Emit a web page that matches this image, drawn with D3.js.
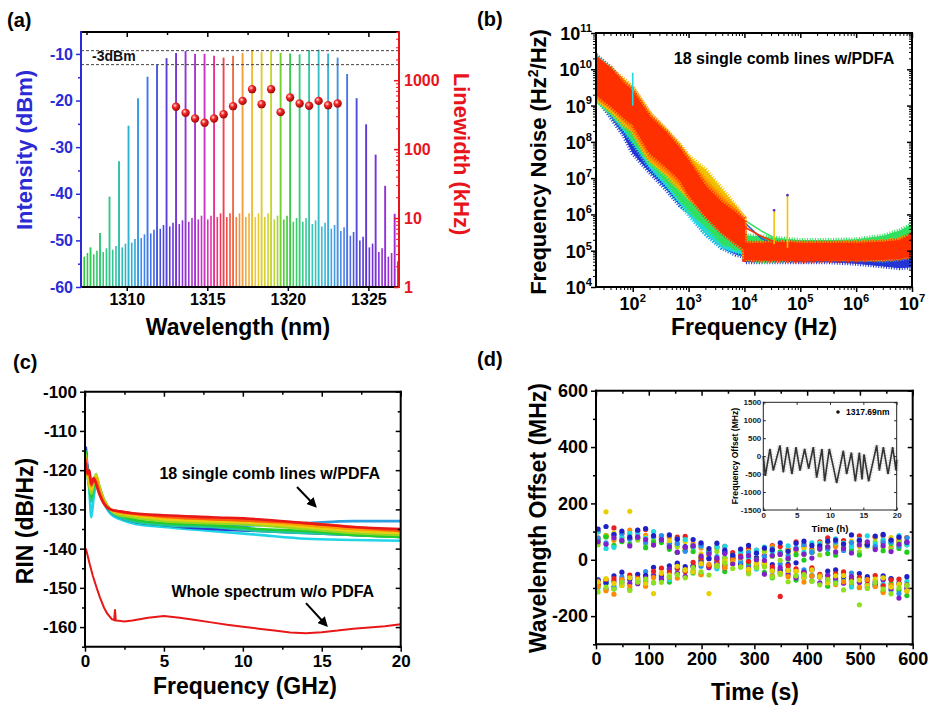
<!DOCTYPE html>
<html>
<head>
<meta charset="utf-8">
<script src="https://cdnjs.cloudflare.com/ajax/libs/d3/7.8.5/d3.min.js"></script>
<style>
  body { margin: 0; background: #fff; }
  svg text { font-family: "Liberation Sans", Arial, Helvetica, sans-serif; font-weight: bold; }
</style>
</head>
<body>
<svg id="fig" width="929" height="707"></svg>
<script>
// ---------- (a) optical spectrum + linewidth ----------
const combWl = [1307.16, 1307.75, 1308.34, 1308.93, 1309.52, 1310.11, 1310.70, 1311.29, 1311.88, 1312.47,
  1313.06, 1313.65, 1314.24, 1314.83, 1315.42, 1316.01, 1316.60, 1317.19, 1317.78, 1318.37,
  1318.96, 1319.55, 1320.14, 1320.73, 1321.32, 1321.91, 1322.50, 1323.09, 1323.68, 1324.27,
  1324.86, 1325.45, 1326.04, 1326.63];
const combPeak = [-52.5, -51.5, -48.4, -40.6, -33.0, -25.4, -19.5, -14.9, -12.4, -10.9,
  -9.8, -9.4, -10.0, -10.0, -10.4, -10.8, -10.4, -9.8, -9.2, -9.6,
  -9.4, -9.8, -9.9, -10.1, -9.2, -9.1, -9.9, -10.8, -14.3, -19.5,
  -25.1, -31.6, -38.3, -44.3];
const combSide = [-53.5, -53, -52.5, -52, -51.5, -50.5, -49.5, -48.5, -47.5, -47,
  -46.5, -46, -45.5, -45.5, -45, -45, -45, -45, -45, -45,
  -45.5, -45.5, -46, -46, -46.5, -47, -47.5, -48, -49, -50,
  -51.5, -52.5, -53.5, -54.5];
const lwWl = [1313.06, 1313.65, 1314.24, 1314.83, 1315.42, 1316.01, 1316.60, 1317.19, 1317.78,
  1318.37, 1318.96, 1319.55, 1320.14, 1320.73, 1321.32, 1321.91, 1322.50, 1323.09];
const lwVal = [411, 336, 278, 241, 278, 321, 420, 501, 741, 449, 741, 344, 561, 459, 425, 501, 434, 459];
const dashLevels = [-9.3, -12.3];
const aXTicks = [1310, 1315, 1320, 1325];
const aXMinor = [1307.5, 1312.5, 1317.5, 1322.5];
const aYTicks = [-60, -50, -40, -30, -20, -10];
const aYMinor = [-55, -45, -35, -25, -15];
const aLwTicks = [1, 10, 100, 1000];

// ---------- (b) frequency noise bands ----------
const fnFreq = [22, 40, 70, 100, 200, 400, 700, 1000, 2000, 4000, 7000, 9900, 10100, 20000, 50000, 1e5, 3e5, 1e6, 3e6, 6e6, 1e7];
const blueLo = [1.8e9, 5e8, 1.5e8, 5e7, 1.5e7, 5e6, 1.8e6, 1.2e6, 3e5, 1.2e5, 8e4, 7e4, 5e4, 5e4, 5e4, 5e4, 5e4, 4.5e4, 3.8e4, 3.4e4, 3.6e4];
const blueHi = [1e10, 5e9, 2.5e9, 9.5e8, 2.5e8, 6e7, 1.8e7, 6e6, 2e6, 5e5, 2e5, 1.3e5, 1.2e5, 1.2e5, 1.2e5, 1.2e5, 1.2e5, 1.1e5, 1e5, 8e4, 1e5];
const cyanLo = [1.6e9, 6e8, 2e8, 1e8, 2e7, 6e6, 2e6, 1e6, 3e5, 1.2e5, 9e4, 8e4, 7e4, 6.5e4, 6.5e4, 6.5e4, 6.5e4, 6e4, 5.5e4, 6e4, 7e4];
const cyanHi = [2.5e10, 1e10, 4e9, 2e9, 3.3e8, 7.6e7, 2.2e7, 1e7, 2.5e6, 6e5, 2.5e5, 1.6e5, 1.6e5, 1.5e5, 1.5e5, 1.5e5, 1.5e5, 1.5e5, 1.6e5, 1.8e5, 2.5e5];
const greenLo = [1.5e9, 6e8, 2.5e8, 1.1e8, 2.6e7, 8e6, 2.5e6, 1.35e6, 4.7e5, 1.6e5, 1.1e5, 9.5e4, 6.3e4, 5e4, 5.5e4, 6.3e4, 6.3e4, 6.3e4, 6.5e4, 7.5e4, 1.3e5];
const greenHi = [2e10, 1e10, 4e9, 2.2e9, 4e8, 1e8, 3e7, 1.4e7, 3.2e6, 9e5, 4e5, 3.1e5, 2.6e5, 2.4e5, 2.1e5, 1.9e5, 1.9e5, 2e5, 2.5e5, 3.5e5, 5.2e5];
const yellowLo = [1.4e9, 7e8, 3e8, 2e8, 3e7, 1.2e7, 5e6, 3e6, 1.2e6, 4e5, 2e5, 1.3e5, 6e4, 6e4, 6e4, 6e4, 6e4, 6e4, 6e4, 6.5e4, 8e4];
const yellowHi = [1.8e10, 9e9, 4.5e9, 3e9, 6e8, 2e8, 8e7, 4e7, 1.7e7, 4.8e6, 1.7e6, 8e5, 1.5e5, 1.5e5, 1.5e5, 1.5e5, 1.5e5, 1.6e5, 1.7e5, 2e5, 2.8e5];
const orangeLo = [1.6e9, 8e8, 3.5e8, 2e8, 3.5e7, 1.4e7, 6e6, 3e6, 1e6, 3.5e5, 1.8e5, 1.2e5, 6e4, 6e4, 6e4, 6e4, 6e4, 6e4, 6e4, 6.5e4, 7.5e4];
const orangeHi = [2e10, 1e10, 5e9, 3e9, 6e8, 2e8, 7.6e7, 3.4e7, 9e6, 3e6, 1.4e6, 8e5, 1.6e5, 1.6e5, 1.6e5, 1.6e5, 1.6e5, 1.7e5, 1.8e5, 2e5, 2.8e5];
const redLo = [2e9, 1e9, 4.5e8, 3e8, 5e7, 2e7, 9e6, 3.5e6, 9e5, 3.1e5, 1.6e5, 1.1e5, 5.8e4, 5.5e4, 5.5e4, 5.2e4, 5.5e4, 5.5e4, 5.8e4, 6e4, 7.2e4];
const redHi = [2.3e10, 1.1e10, 4e9, 2.5e9, 5e8, 1.8e8, 6.5e7, 3e7, 6e6, 2.1e6, 1.1e6, 7e5, 1.6e5, 1.6e5, 1.7e5, 1.6e5, 1.6e5, 1.6e5, 1.7e5, 1.9e5, 2.9e5];
const spikeF = [100, 34000, 59000];
const spikeBase = [1e9, 1.5e5, 1.2e5];
const spikeTop = [8e9, 1.3e6, 3.4e6];
const trF = [10000, 20000, 40000];
const trGreen = [7e5, 3.5e5, 2e5];
const trBlue = [6e5, 2.2e5, 1.3e5];
const trRed = [4.5e5, 2.5e5, 1.6e5];
const bXTicks = [1e2, 1e3, 1e4, 1e5, 1e6, 1e7];
const bYTicks = [1e4, 1e5, 1e6, 1e7, 1e8, 1e9, 1e10, 1e11];

// ---------- (c) RIN ----------
const rinFreq = [0.05, 0.15, 0.27, 0.4, 0.55, 0.7, 0.9, 1.2, 1.6, 2.2, 3, 5, 8, 11, 14, 17, 20];
const rinCyan   = [-117, -121, -125, -132, -127, -124, -125.5, -128.5, -131, -132.5, -133.5, -134.5, -135.5, -136.5, -137.5, -137.8, -138];
const rinSky    = [-116, -120, -123, -127, -124, -122.5, -125, -128, -130.5, -132, -133, -134, -134.5, -134, -133.5, -133, -133];
const rinBlue   = [-114, -119, -122, -126, -124, -123, -125, -128, -130.5, -132, -133, -134, -135, -135.5, -136, -136.5, -137];
const rinPurple = [-115, -120, -122, -125, -123, -122.5, -124.5, -128, -130.5, -131.5, -132, -132.5, -133, -133.5, -134, -135, -135.5];
const rinTeal   = [-116, -121, -124, -128, -125, -122, -124.5, -128, -130.5, -132, -133, -134, -134.5, -135.5, -136, -136.5, -137];
const rinGreen  = [-115, -120, -123, -127, -124, -121.5, -124, -127.5, -130, -131.5, -132.5, -133.5, -134, -135, -135.5, -136.5, -137];
const rinLime   = [-116, -121, -124, -126, -123, -121, -124, -127.5, -130, -131.5, -132, -133, -133.5, -134, -135, -136, -136.5];
const rinYellow = [-117, -121, -123, -125, -123, -121.5, -124.5, -128, -130, -131, -131.5, -132.5, -133, -133.5, -134.5, -135.5, -136];
const rinOrange = [-118, -121, -121.5, -124, -123, -122, -125, -128, -130, -130.8, -131.2, -132, -132.5, -133, -134, -135, -135.5];
const rinOrRed  = [-117, -120, -120.5, -124, -122.5, -123, -125.5, -128.5, -130, -130.5, -131, -131.8, -132.5, -133, -133.5, -134.5, -135.5];
const rinRed    = [-118, -121, -120, -123.5, -122, -123.5, -126, -128.5, -130, -130.5, -131, -131.5, -132, -132.5, -133.5, -134.5, -135];
const wholeFreq = [0.05, 0.15, 0.3, 0.5, 0.74, 0.95, 1.2, 1.4, 1.7, 1.85, 1.9, 1.95, 2.5, 3, 4, 5, 6, 7, 8, 9, 10, 11, 12, 13, 14, 15, 16, 17, 18, 19, 20];
const wholeRin = [-140, -141.5, -144, -147, -150, -152.5, -155, -156.5, -158, -158.2, -155.5, -158.3, -158.6, -158.3, -157.6, -157.2, -157.6, -158.2, -158.8, -159.4, -159.9, -160.4, -160.9, -161.4, -161.6, -161.3, -160.9, -160.4, -160.1, -159.8, -159.3];
const cXTicks = [0, 5, 10, 15, 20];
const cYTicks = [-160, -150, -140, -130, -120, -110, -100];

// ---------- (d) wavelength offset of 18 lines ----------
const dTime = [4, 19, 34, 49, 64, 79, 94, 109, 124, 139, 154, 169, 184, 199, 214, 229, 244, 259, 274, 289,
  304, 319, 334, 349, 364, 379, 394, 409, 424, 439, 454, 469, 484, 499, 514, 529, 544, 559, 574, 589];
const u1 = [100, 83, 113, 92, 75, 104, 107, 80, 83, 59, 80, 83, 48, 55, 27, 46, 48, 25, 14, 39, 33, 16, 50, 47, 36, 64, 48, 38, 64, 78, 51, 68, 61, 85, 54, 81, 86, 69, 65, 79];
const u2 = [78, 87, 69, 96, 105, 76, 87, 59, 78, 80, 55, 40, 57, 42, 16, 41, 29, 11, 34, 17, 7, 33, 47, 20, 37, 31, 56, 26, 55, 62, 47, 45, 61, 64, 49, 80, 60, 44, 74, 79];
const u3 = [62, 170, 95, 76, 172, 90, 79, 53, 78, 66, 46, 65, 40, 21, 38, 43, 7, 17, 6, 30, 0, 29, 36, 21, 19, 36, 40, 26, 59, 41, 27, 59, 66, 47, 58, 41, 69, 79, 51, 64];
const u4 = [53, 84, 78, 64, 89, 70, 55, 72, 77, 41, 49, 34, 50, 11, 31, 29, 5, -4, 8, 11, -3, 30, 12, -2, 30, 38, 20, 32, 17, 47, 59, 33, 48, 28, 55, 64, 46, 38, 62, 53];
const u5 = [70, 81, 51, 65, 56, 78, 43, 63, 61, 37, 26, 34, 29, 6, 30, 3, -20, 5, 8, -11, 1, -14, 16, 28, 2, 18, -1, 27, 38, 22, 16, 42, 35, 17, 50, 45, 32, 58, 40, 27];
const u6 = [99, 40, 44, 80, 94, 95, 76, 100, 73, 50, 73, 72, 45, 48, 24, 45, 48, 15, 26, 6, 34, 45, 29, 23, 49, 43, 26, 60, 57, 46, 74, 58, 47, 72, 85, 56, 71, 63, 86, 53];
const u7 = [77, 60, 89, 94, 73, 82, 62, 83, 86, 51, 58, 30, 49, 51, 26, 11, 28, 15, -7, 26, 23, 12, 40, 24, 14, 40, 54, 27, 44, 38, 63, 33, 61, 67, 51, 47, 62, 64, 48, 78];
const u8 = [109, 118, 89, 102, 80, 105, 111, 86, 71, 88, 73, 47, 72, 60, 40, 59, 34, 17, 38, 51, 24, 41, 35, 60, 30, 59, 66, 51, 49, 66, 70, 56, 88, 69, 54, 84, 90, 70, 80, 62];
const u9 = [64, 55, 78, 69, 49, 80, 72, 52, 71, 46, 27, 44, 49, 13, 21, 6, 22, -15, 9, 15, 0, -2, 15, 19, 5, 38, 20, 6, 38, 46, 28, 40, 24, 53, 64, 36, 50, 29, 55, 63];
const l1 = [-91, -83, -102, -91, -105, -74, -59, -82, -63, -79, -48, -34, -47, -50, -21, -26, -42, -9, -19, -39, -20, -45, -64, -45, -38, -72, -62, -75, -57, -94, -72, -72, -92, -99, -87, -90, -111, -85, -108, -127];
const l2 = [-99, -83, -103, -76, -64, -79, -82, -53, -56, -70, -33, -33, -41, -10, -23, -32, -5, 8, -26, -18, -33, -17, -56, -34, -34, -56, -65, -55, -58, -79, -53, -78, -97, -70, -67, -92, -87, -109, -84, -77];
const l3 = [-70, -76, -94, -61, -63, -73, -42, -55, -62, -33, -16, -40, -20, -23, 5, -24, 6, 12, -10, -21, -13, -18, -41, -15, -40, -61, -36, -35, -60, -55, -77, -54, -47, -78, -67, -93, -72, -68, -120, -100];
const l4 = [-72, -82, -57, -44, -70, -52, -55, -27, -54, -22, -12, -24, -23, -3, 4, -9, 25, 6, -15, 8, 7, -20, -17, -39, -16, -11, -44, -35, -61, -40, -36, -59, -70, -49, -60, -84, -57, -67, -83, -60];
const l5 = [-74, -104, -76, -70, -84, -85, -65, -58, -69, -33, -48, -59, -24, -13, -28, -15, -29, 0, 5, -30, -23, -51, -32, -28, -51, -64, -45, -58, -82, -55, -65, -83, -60, -81, -96, -77, -70, -104, -136, -103];
const l6 = [-87, -70, -67, -82, -54, -65, -76, -41, -30, -45, -30, -42, -9, 6, -23, 0, -18, 9, 13, -6, -27, -10, -25, -130, -22, -32, -50, -29, -52, -69, -50, -43, -75, -63, -74, -56, -93, -71, -69, -89];
const l7 = [-95, -110, -122, -70, -95, -78, -94, -63, -49, -62, -65, -36, -39, -53, -16, -18, -28, -1, -24, -43, -26, -21, -57, -47, -60, -42, -79, -57, -57, -79, -88, -78, -79, -98, -70, -95, -116, -91, -88, -111];
const l8 = [-78, -67, -84, -91, -64, -69, -83, -120, -46, -54, -23, -36, -43, -14, -120, -23, -5, -12, 6, -33, -13, -15, -39, -48, -38, -41, -62, -36, -61, -82, -57, -56, -79, -72, -92, -69, -64, -97, -86, -110];
const l9 = [-114, -97, -104, -80, -109, -79, -69, -81, -80, -60, -53, -64, -28, -43, -54, -21, -12, -31, -26, -50, -29, -26, -61, -52, -78, -57, -53, -76, -89, -70, -83, -107, -78, -160, -102, -81, -104, -121, -100, -91];
const dXTicks = [0, 100, 200, 300, 400, 500, 600];
const dYTicks = [-200, 0, 200, 400, 600];
// inset: 1317.69 nm line over 20 h
const inT = [0, 0.3, 1.0, 1.5, 2.5, 3.0, 3.6, 4.3, 4.9, 5.5, 6.2, 6.8, 7.5, 8.0, 8.8, 9.2, 9.9, 10.5, 11.0, 12.0, 12.5, 13.2, 13.8, 14.4, 14.8, 15.1, 15.8, 17.0, 17.4, 18.0, 18.7, 19.4, 19.9, 20];
const inV = [0, -550, 200, -400, 300, -450, 250, -500, 250, -400, 200, -350, 250, -600, 200, -700, 200, -300, -750, 150, -500, 100, -700, 100, -650, 50, -700, 300, -400, 250, -500, 250, -400, -100];
const inXTicks = [0, 5, 10, 15, 20];
const inYTicks = [-1500, -1000, -500, 0, 500, 1000, 1500];

// ================= drawing =================
const FONT = "'Liberation Sans', Arial, Helvetica, sans-serif";
const BLUE = "#2b2bd6", RED = "#e8141c";
const plain = d => String(d);
const svg = d3.select("#fig");
const defs = svg.append("defs");

function drawAxis(g, axisFn, scale, vals, size, color, opts) {
  opts = opts || {};
  const ax = axisFn(scale).tickValues(vals).tickSize(size)
    .tickPadding(opts.pad == null ? 3 : opts.pad)
    .tickFormat(opts.fmt || (() => ""));
  const a = g.append("g").attr("transform", opts.tr || null).call(ax);
  a.select(".domain").remove();
  a.selectAll(".tick line").attr("stroke", color).attr("stroke-width", opts.w || 1.5);
  a.selectAll(".tick text").attr("fill", color)
    .style("font-size", (opts.fs || 16) + "px").style("font-family", FONT).style("font-weight", "bold");
  return a;
}

function frame(g, x, y, colors, w) {
  const [x0, x1] = x.range(), [y0, y1] = y.range();
  const sides = [[x0, y0, x1, y0, colors[0]], [x0, y1, x1, y1, colors[1]],
                 [x0, y1, x0, y0, colors[2]], [x1, y1, x1, y0, colors[3]]];
  sides.forEach(s => g.append("line").attr("x1", s[0]).attr("y1", s[1]).attr("x2", s[2]).attr("y2", s[3])
    .attr("stroke", s[4]).attr("stroke-width", w || 2).attr("stroke-linecap", "square"));
}

function clip(id, x, y) {
  defs.append("clipPath").attr("id", id).append("rect")
    .attr("x", x.range()[0]).attr("y", y.range()[1])
    .attr("width", x.range()[1] - x.range()[0]).attr("height", y.range()[0] - y.range()[1]);
}

function title(g, txt, x, y, rot, fs, color) {
  return g.append("text").attr("transform", `translate(${x},${y}) rotate(${rot})`)
    .attr("text-anchor", "middle").style("font-size", fs + "px").attr("fill", color || "#000").text(txt);
}

// ---------- panel (a) ----------
const aX = d3.scaleLinear().domain([1307.16, 1326.9]).range([81, 399]);
const aY = d3.scaleLinear().domain([-60, -5.3]).range([287, 32]);
const aLw = d3.scaleLog().domain([1, 5000]).range([287, 32]);
const combColor = d3.scaleLinear()
  .domain([1307, 1309, 1310.3, 1311, 1312.2, 1313, 1314.6, 1315.3, 1315.8, 1316.4, 1317, 1318, 1319.2, 1319.8, 1321, 1322.2, 1323.4, 1324.6, 1325.8, 1327])
  .range(["#2ccc2c", "#30c890", "#2ab0d8", "#3a88f0", "#4848dc", "#7434d8", "#c034cc", "#e833a8", "#f03858", "#f25440",
          "#f29440", "#eec830", "#bcd830", "#3ccc2c", "#38cc90", "#34bcd8", "#4a86e8", "#5038d8", "#8e2ed8", "#a82cd8"]);

const gA = svg.append("g");
clip("clipA", aX, aY);
const spec = gA.append("g").attr("clip-path", "url(#clipA)");
const combData = combWl.map((wl, i) => ({ wl, peak: combPeak[i], side: combSide[i] }));
spec.selectAll(".side1").data(combData).join("line")
  .attr("x1", d => aX(d.wl + 0.2)).attr("x2", d => aX(d.wl + 0.2))
  .attr("y1", aY(-61)).attr("y2", d => aY(d.side))
  .attr("stroke", d => combColor(d.wl + 0.2)).attr("stroke-width", 1.6);
spec.selectAll(".side2").data(combData).join("line")
  .attr("x1", d => aX(d.wl + 0.4)).attr("x2", d => aX(d.wl + 0.4))
  .attr("y1", aY(-61)).attr("y2", d => aY(d.side + 0.8))
  .attr("stroke", d => combColor(d.wl + 0.4)).attr("stroke-width", 1.6);
spec.selectAll(".main").data(combData).join("line")
  .attr("x1", d => aX(d.wl)).attr("x2", d => aX(d.wl))
  .attr("y1", aY(-61)).attr("y2", d => aY(d.peak))
  .attr("stroke", d => combColor(d.wl)).attr("stroke-width", 1.9);

gA.selectAll(".dash").data(dashLevels).join("line")
  .attr("x1", aX.range()[0]).attr("x2", aX.range()[1])
  .attr("y1", d => aY(d)).attr("y2", d => aY(d))
  .attr("stroke", "#444").attr("stroke-width", 1).attr("stroke-dasharray", "3,2");
gA.append("text").attr("x", aX(1307.85)).attr("y", aY(-11.5)).style("font-size", "14px").attr("fill", "#111").text("-3dBm");

const grad = defs.append("radialGradient").attr("id", "ball").attr("cx", "38%").attr("cy", "35%").attr("r", "65%");
grad.append("stop").attr("offset", "0%").attr("stop-color", "#ffe0e0");
grad.append("stop").attr("offset", "40%").attr("stop-color", "#f02828");
grad.append("stop").attr("offset", "100%").attr("stop-color", "#a00808");
gA.selectAll(".lw").data(lwWl).join("circle")
  .attr("cx", d => aX(d)).attr("cy", (d, i) => aLw(lwVal[i])).attr("r", 4.2)
  .attr("fill", "url(#ball)");

frame(gA, aX, aY, ["#000", "#000", BLUE, RED], 2);
drawAxis(gA, d3.axisLeft, aY, aYTicks, 5, BLUE, { tr: `translate(${aX.range()[0]},0)`, fmt: plain, fs: 16 });
drawAxis(gA, d3.axisLeft, aY, aYMinor, 3, BLUE, { tr: `translate(${aX.range()[0]},0)` });
drawAxis(gA, d3.axisBottom, aX, aXTicks, 4, "#000", { tr: `translate(0,${aY.range()[0]})`, fmt: plain, fs: 16 });
drawAxis(gA, d3.axisTop, aX, aXTicks, -5, "#000", { tr: `translate(0,${aY.range()[1]})` });
drawAxis(gA, d3.axisTop, aX, aXMinor, -3, "#000", { tr: `translate(0,${aY.range()[1]})` });
drawAxis(gA, d3.axisRight, aLw, aLwTicks, -5, RED, { tr: `translate(${aX.range()[1]},0)`, fmt: plain, fs: 16, pad: 5 });
drawAxis(gA, d3.axisRight, aLw, aLw.ticks().filter(v => !aLwTicks.includes(v)), -3, RED, { tr: `translate(${aX.range()[1]},0)`, w: 1 });
title(gA, "Intensity (dBm)", 32, 150, -90, 22, BLUE);
title(gA, "Linewidth (kHz)", 454, 154, 90, 22, RED);
title(gA, "Wavelength (nm)", 238, 335, 0, 23);
gA.append("text").attr("x", 7).attr("y", 27).style("font-size", "20px").text("(a)");

// ---------- panel (b) ----------
const bX = d3.scaleLog().domain([22, 1e7]).range([596, 912]);
const bY = d3.scaleLog().domain([1e4, 1e11]).range([287, 33]);
const gB = svg.append("g");
clip("clipB", bX, bY);
const bPlot = gB.append("g").attr("clip-path", "url(#clipB)");
const bands = [
  ["#2434d4", blueLo, blueHi], ["#22d8e4", cyanLo, cyanHi], ["#30e060", greenLo, greenHi],
  ["#f2c400", yellowLo, yellowHi], ["#ff8a00", orangeLo, orangeHi], ["#ff3000", redLo, redHi]];
const bandArea = d3.area().x(d => bX(d.f)).y0(d => bY(d.lo)).y1(d => bY(d.hi));
const edgeLo = d3.line().x(d => bX(d.f)).y(d => bY(d.lo));
const edgeHi = d3.line().x(d => bX(d.f)).y(d => bY(d.hi));
bands.forEach(([col, lo, hi], k) => {
  const pts = fnFreq.map((f, i) => ({ f, lo: lo[i], hi: hi[i] }));
  bPlot.append("path").datum(pts).attr("d", bandArea)
    .attr("fill", col).attr("stroke", col).attr("stroke-width", 1).attr("stroke-linejoin", "bevel");
  // fuzzy noise fringe along the band edges
  [edgeLo, edgeHi].forEach(fn => bPlot.append("path").datum(pts).attr("d", fn)
    .attr("fill", "none").attr("stroke", col).attr("stroke-width", 5).attr("stroke-dasharray", "1,1.6"));
  if (k === 2) {
    const ln = d3.line().x((d, i) => bX(trF[i])).y(d => bY(d));
    [["#30e060", trGreen], ["#2060e0", trBlue]].forEach(([c, arr]) =>
      bPlot.append("path").datum(arr).attr("d", ln).attr("fill", "none").attr("stroke", c).attr("stroke-width", 1.5));
  }
});
bPlot.append("path").datum(trRed).attr("d", d3.line().x((d, i) => bX(trF[i])).y(d => bY(d)))
  .attr("fill", "none").attr("stroke", "#ff3000").attr("stroke-width", 1.5);
bPlot.selectAll(".spk").data(spikeF).join("line")
  .attr("x1", d => bX(d)).attr("x2", d => bX(d))
  .attr("y1", (d, i) => bY(spikeBase[i])).attr("y2", (d, i) => bY(spikeTop[i]))
  .attr("stroke", (d, i) => i === 0 ? "#22d8e4" : "#f2c400").attr("stroke-width", 1.6);
bPlot.selectAll(".spkc").data(spikeF.slice(1)).join("circle")
  .attr("cx", d => bX(d)).attr("cy", (d, i) => bY(spikeTop[i + 1])).attr("r", 1.3).attr("fill", "#5030c0");

frame(gB, bX, bY, ["#000", "#000", "#000", "#000"], 2);
const bXMinor = bX.ticks().filter(v => !bXTicks.includes(v));
const bYMinor = bY.ticks().filter(v => !bYTicks.includes(v));
drawAxis(gB, d3.axisBottom, bX, bXTicks, 5, "#000", { tr: `translate(0,${bY.range()[0]})` });
drawAxis(gB, d3.axisBottom, bX, bXMinor, 3, "#000", { tr: `translate(0,${bY.range()[0]})`, w: 1 });
drawAxis(gB, d3.axisTop, bX, bXTicks, -5, "#000", { tr: `translate(0,${bY.range()[1]})` });
drawAxis(gB, d3.axisTop, bX, bXMinor, -3, "#000", { tr: `translate(0,${bY.range()[1]})`, w: 1 });
drawAxis(gB, d3.axisLeft, bY, bYTicks, 5, "#000", { tr: `translate(${bX.range()[0]},0)` });
drawAxis(gB, d3.axisLeft, bY, bYMinor, 3, "#000", { tr: `translate(${bX.range()[0]},0)`, w: 1 });
drawAxis(gB, d3.axisRight, bY, bYTicks, -5, "#000", { tr: `translate(${bX.range()[1]},0)` });
drawAxis(gB, d3.axisRight, bY, bYMinor, -3, "#000", { tr: `translate(${bX.range()[1]},0)`, w: 1 });

function powLabel(g, x, y, v, anchor, fs) {
  const t = g.append("text").attr("x", x).attr("y", y).attr("text-anchor", anchor).style("font-size", fs + "px");
  t.append("tspan").text("10");
  t.append("tspan").attr("dy", -fs * 0.45).style("font-size", (fs * 0.62) + "px").text(Math.round(Math.log10(v)));
}
bXTicks.forEach(v => powLabel(gB, bX(v), 310, v, "middle", 18));
bYTicks.forEach(v => powLabel(gB, 592, bY(v) + 7, v, "end", 18));
const bt = gB.append("text").attr("transform", "translate(546,162) rotate(-90)").attr("text-anchor", "middle").style("font-size", "22px");
bt.append("tspan").text("Frequency Noise (Hz");
bt.append("tspan").attr("dy", -8).style("font-size", "14px").text("2");
bt.append("tspan").attr("dy", 8).text("/Hz)");
title(gB, "Frequency (Hz)", 754, 335, 0, 23);
gB.append("text").attr("x", 784).attr("y", 64).attr("text-anchor", "middle").style("font-size", "16px").text("18 single comb lines w/PDFA");
gB.append("text").attr("x", 477).attr("y", 26).style("font-size", "20px").text("(b)");

// ---------- panel (c) ----------
const cX = d3.scaleLinear().domain([0, 20]).range([85, 400.7]);
const cY = d3.scaleLinear().domain([-165, -100]).range([646.7, 391.7]);
const gC = svg.append("g");
clip("clipC", cX, cY);
const cPlot = gC.append("g").attr("clip-path", "url(#clipC)");
const rinLine = d3.line().x((d, i) => cX(rinFreq[i])).y(d => cY(d)).curve(d3.curveMonotoneX);
const rinSeries = [
  ["#22d4e8", rinCyan], ["#2a9ee0", rinSky], ["#2838d0", rinBlue], ["#6a28c8", rinPurple],
  ["#20c8a0", rinTeal], ["#22cc30", rinGreen], ["#9ad820", rinLime], ["#e8d010", rinYellow],
  ["#ff9a00", rinOrange], ["#ff5a10", rinOrRed], ["#e81818", rinRed]];
rinSeries.forEach(([col, vals]) =>
  cPlot.append("path").datum(vals).attr("d", rinLine).attr("fill", "none").attr("stroke", col).attr("stroke-width", 2.6));
cPlot.append("path").datum(wholeRin)
  .attr("d", d3.line().x((d, i) => cX(wholeFreq[i])).y(d => cY(d)))
  .attr("fill", "none").attr("stroke", "#e81818").attr("stroke-width", 2);

frame(gC, cX, cY, ["#000", "#000", "#000", "#000"], 2);
const cXMinor = [2.5, 7.5, 12.5, 17.5], cYMinor = [-165, -155, -145, -135, -125, -115, -105];
drawAxis(gC, d3.axisBottom, cX, cXTicks, 5, "#000", { tr: `translate(0,${cY.range()[0]})`, fmt: plain, fs: 17 });
drawAxis(gC, d3.axisBottom, cX, cXMinor, 3, "#000", { tr: `translate(0,${cY.range()[0]})` });
drawAxis(gC, d3.axisTop, cX, cXTicks, -5, "#000", { tr: `translate(0,${cY.range()[1]})` });
drawAxis(gC, d3.axisTop, cX, cXMinor, -3, "#000", { tr: `translate(0,${cY.range()[1]})` });
drawAxis(gC, d3.axisLeft, cY, cYTicks, 5, "#000", { tr: `translate(${cX.range()[0]},0)`, fmt: plain, fs: 17 });
drawAxis(gC, d3.axisLeft, cY, cYMinor, 3, "#000", { tr: `translate(${cX.range()[0]},0)` });
drawAxis(gC, d3.axisRight, cY, cYTicks, -5, "#000", { tr: `translate(${cX.range()[1]},0)` });
drawAxis(gC, d3.axisRight, cY, cYMinor, -3, "#000", { tr: `translate(${cX.range()[1]},0)` });
title(gC, "RIN (dB/Hz)", 33, 521, -90, 23);
title(gC, "Frequency (GHz)", 245, 694, 0, 23);
gC.append("text").attr("x", cX(11.7)).attr("y", cY(-122.2)).attr("text-anchor", "middle").style("font-size", "16px").text("18 single comb lines w/PDFA");
gC.append("text").attr("x", cX(11.9)).attr("y", cY(-152.3)).attr("text-anchor", "middle").style("font-size", "16px").text("Whole spectrum w/o PDFA");
defs.append("marker").attr("id", "arr").attr("viewBox", "0 0 10 10").attr("refX", 8).attr("refY", 5)
  .attr("markerWidth", 5).attr("markerHeight", 5).attr("orient", "auto")
  .append("path").attr("d", "M0,0 L10,5 L0,10 z").attr("fill", "#000");
[[13.43, -124.3, 14.6, -129.2], [14.0, -153.9, 15.3, -159.6]].forEach(a =>
  gC.append("line").attr("x1", cX(a[0])).attr("y1", cY(a[1])).attr("x2", cX(a[2])).attr("y2", cY(a[3]))
    .attr("stroke", "#000").attr("stroke-width", 2).attr("marker-end", "url(#arr)"));
gC.append("text").attr("x", 13).attr("y", 369).style("font-size", "20px").text("(c)");

// ---------- panel (d) ----------
const dX = d3.scaleLinear().domain([0, 600]).range([596, 912.7]);
const dY = d3.scaleLinear().domain([-300, 600]).range([644.3, 390.7]);
const gD = svg.append("g");
const dColors = ["#e82020", "#ff8c00", "#e8d000", "#90e020", "#20cc20", "#20d8e0", "#2a90f0", "#2020c8", "#8020c8"];
const upper = [u1, u2, u3, u4, u5, u6, u7, u8, u9];
const lower = [l1, l2, l3, l4, l5, l6, l7, l8, l9];
const dots = [];
dTime.forEach((t, i) => {
  for (let k = 0; k < 9; k++) {
    dots.push({ t, v: upper[k][i], c: dColors[k] });
    dots.push({ t, v: lower[k][i], c: dColors[(k + 4) % 9] });
  }
});
gD.selectAll(".dot").data(dots).join("circle")
  .attr("cx", d => dX(d.t)).attr("cy", d => dY(d.v)).attr("r", 2.6).attr("fill", d => d.c);

frame(gD, dX, dY, ["#000", "#000", "#000", "#000"], 2);
const dXMinor = [50, 150, 250, 350, 450, 550], dYMinor = [-300, -100, 100, 300, 500];
drawAxis(gD, d3.axisBottom, dX, dXTicks, 5, "#000", { tr: `translate(0,${dY.range()[0]})`, fmt: plain, fs: 18 });
drawAxis(gD, d3.axisBottom, dX, dXMinor, 3, "#000", { tr: `translate(0,${dY.range()[0]})` });
drawAxis(gD, d3.axisTop, dX, dXTicks, -5, "#000", { tr: `translate(0,${dY.range()[1]})` });
drawAxis(gD, d3.axisTop, dX, dXMinor, -3, "#000", { tr: `translate(0,${dY.range()[1]})` });
drawAxis(gD, d3.axisLeft, dY, dYTicks, 5, "#000", { tr: `translate(${dX.range()[0]},0)`, fmt: plain, fs: 18 });
drawAxis(gD, d3.axisLeft, dY, dYMinor, 3, "#000", { tr: `translate(${dX.range()[0]},0)` });
drawAxis(gD, d3.axisRight, dY, dYTicks, -5, "#000", { tr: `translate(${dX.range()[1]},0)` });
drawAxis(gD, d3.axisRight, dY, dYMinor, -3, "#000", { tr: `translate(${dX.range()[1]},0)` });
title(gD, "Wavelength Offset (MHz)", 546, 518, -90, 23);
title(gD, "Time (s)", 755, 700, 0, 23);
gD.append("text").attr("x", 477).attr("y", 366).style("font-size", "20px").text("(d)");

// inset
const iX = d3.scaleLinear().domain([0, 20]).range([763.3, 896.7]);
const iY = d3.scaleLinear().domain([-1500, 1500]).range([510, 402.3]);
const gI = svg.append("g");
gI.append("rect").attr("x", iX.range()[0]).attr("y", iY.range()[1])
  .attr("width", iX.range()[1] - iX.range()[0]).attr("height", iY.range()[0] - iY.range()[1]).attr("fill", "#fff");
const inPts = inT.map((t, i) => ({ t, v: inV[i] }));
const inLine = d3.line().x(d => iX(d.t)).y(d => iY(d.v));
gI.append("path").datum(inPts).attr("d", inLine)
  .attr("fill", "none").attr("stroke", "#888").attr("stroke-width", 5).attr("opacity", 0.35)
  .attr("stroke-dasharray", "1,1.5");
gI.append("path").datum(inPts).attr("d", inLine)
  .attr("fill", "none").attr("stroke", "#333").attr("stroke-width", 1.6);
frame(gI, iX, iY, ["#222", "#222", "#222", "#222"], 1);
drawAxis(gI, d3.axisBottom, iX, inXTicks, -2.5, "#222", { tr: `translate(0,${iY.range()[0]})`, fmt: plain, fs: 8, pad: 2, w: 1 });
drawAxis(gI, d3.axisLeft, iY, inYTicks, -2.5, "#222", { tr: `translate(${iX.range()[0]},0)`, fmt: plain, fs: 8, pad: 2, w: 1 });
drawAxis(gI, d3.axisTop, iX, inXTicks, -2.5, "#222", { tr: `translate(0,${iY.range()[1]})`, w: 1 });
drawAxis(gI, d3.axisRight, iY, inYTicks, -2.5, "#222", { tr: `translate(${iX.range()[1]},0)`, w: 1 });
title(gI, "Frequency Offset (MHz)", 738, 456, -90, 8.6);
title(gI, "Time (h)", 830, 532, 0, 9.5);
gI.append("circle").attr("cx", 838).attr("cy", 412).attr("r", 1.8).attr("fill", "#111");
gI.append("text").attr("x", 846).attr("y", 415).style("font-size", "8.5px").text("1317.69nm");
</script>
</body>
</html>
